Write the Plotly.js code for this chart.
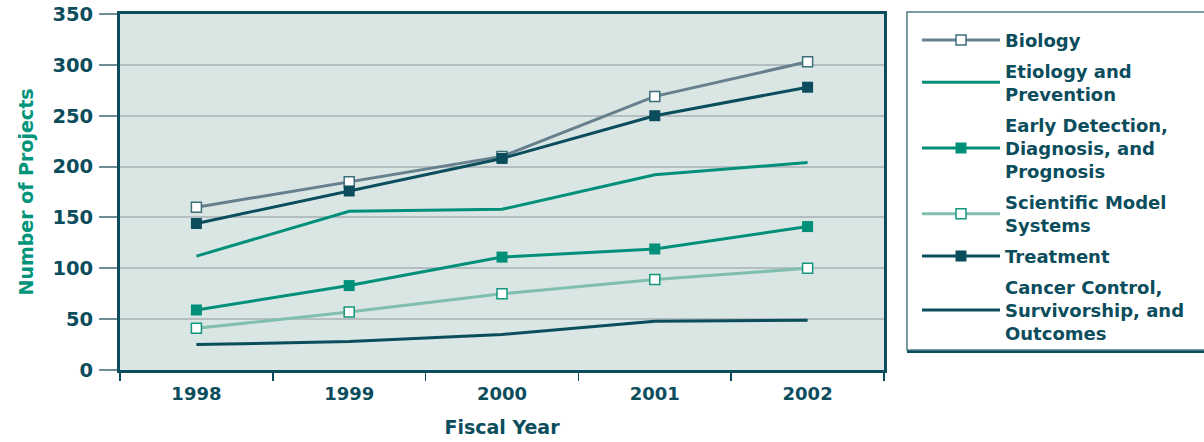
<!DOCTYPE html>
<html>
<head>
<meta charset="utf-8">
<script src="https://cdn.plot.ly/plotly-3.0.1.min.js"></script>
<style>html,body{margin:0;padding:0;background:#fff;}#chart{width:1204px;height:442px;}</style>
</head>
<body>
<div id="chart"></div>
<script>
const years = ['1998', '1999', '2000', '2001', '2002'];
const biology = [160, 185, 210, 269, 303];
const etiology = [112, 156, 158, 192, 204];
const earlyDetection = [59, 83, 111, 119, 141];
const scientificModel = [41, 57, 75, 89, 100];
const treatment = [144, 176, 208, 250, 278];
const cancerControl = [25, 28, 35, 48, 49];

const names = [
  'Biology',
  'Etiology and<br>Prevention',
  'Early Detection,<br>Diagnosis, and<br>Prognosis',
  'Scientific Model<br>Systems',
  'Treatment',
  'Cancer Control,<br>Survivorship, and<br>Outcomes'
];

const DARK = '#0b4d5c';
const TEAL = '#00907a';
const FONT = 'DejaVu Sans, Verdana, sans-serif';

const traces = [
  {y: biology, name: names[0], mode: 'lines+markers',
   line: {color: '#66808e', width: 3},
   marker: {symbol: 'square', size: 10, color: '#ffffff', line: {color: '#3b6e79', width: 1.5}}},
  {y: etiology, name: names[1], mode: 'lines',
   line: {color: TEAL, width: 3}},
  {y: earlyDetection, name: names[2], mode: 'lines+markers',
   line: {color: TEAL, width: 3},
   marker: {symbol: 'square', size: 11, color: TEAL, line: {color: TEAL, width: 0}}},
  {y: scientificModel, name: names[3], mode: 'lines+markers',
   line: {color: '#80bfb0', width: 3},
   marker: {symbol: 'square', size: 10, color: '#ffffff', line: {color: '#13967e', width: 1.5}}},
  {y: treatment, name: names[4], mode: 'lines+markers',
   line: {color: DARK, width: 3},
   marker: {symbol: 'square', size: 11, color: DARK, line: {color: DARK, width: 0}}},
  {y: cancerControl, name: names[5], mode: 'lines',
   line: {color: DARK, width: 3}}
].map((t, i) => Object.assign({x: years, type: 'scatter', legendgroup: 'g' + i, hoverinfo: 'skip'}, t));

// legend frame (paper coordinates) with drop shadow
const shapes = [
  {type: 'rect', xref: 'paper', yref: 'paper', x0: 1.0301, x1: 1.45, y0: 0.0478, y1: 0.998,
   fillcolor: DARK, line: {width: 0}, layer: 'below'},
  {type: 'rect', xref: 'paper', yref: 'paper', x0: 1.0301, x1: 1.43, y0: 0.0562, y1: 1.0056,
   fillcolor: '#ffffff', line: {color: '#4d7b86', width: 1.5}, layer: 'below'}
];

const layout = {
  width: 1204, height: 442,
  margin: {l: 120, r: 320, t: 14, b: 72, autoexpand: false},
  paper_bgcolor: '#ffffff',
  plot_bgcolor: '#d9e6e3',
  font: {family: FONT, size: 18.5, color: DARK, weight: 'bold'},
  showlegend: true,
  shapes: shapes,
  xaxis: {
    type: 'category', range: [-0.5, 4.5], tickson: 'boundaries',
    ticks: 'outside', ticklen: 8, tickwidth: 1.5, tickcolor: DARK,
    ticklabelstandoff: 5,
    showline: true, linewidth: 3, linecolor: DARK, mirror: true,
    showgrid: false, zeroline: false,
    tickfont: {family: FONT, size: 18, color: DARK, weight: 'bold'},
    title: {text: 'Fiscal Year', standoff: 19, font: {family: FONT, size: 19, color: DARK, weight: 'bold'}}
  },
  yaxis: {
    range: [0, 350], dtick: 50, tick0: 0,
    ticks: 'outside', ticklen: 18, tickwidth: 2, tickcolor: '#6f8f98',
    ticklabelstandoff: 2,
    showline: true, linewidth: 3, linecolor: DARK, mirror: true,
    showgrid: true, gridcolor: '#b4bec1', gridwidth: 2, zeroline: false,
    tickfont: {family: FONT, size: 19.5, color: DARK, weight: 'bold'},
    title: {text: 'Number of Projects', standoff: 14, font: {family: FONT, size: 19, color: '#00957a', weight: 'bold'}}
  },
  legend: {
    x: 1.0432, xanchor: 'left', y: 0.978, yanchor: 'top',
    bgcolor: 'rgba(0,0,0,0)', borderwidth: 0, maxheight: 440,
    itemwidth: 78, tracegroupgap: 4.2, traceorder: 'grouped',
    font: {family: FONT, size: 18, color: DARK, weight: 'bold'}
  }
};

Plotly.newPlot('chart', traces, layout, {displayModeBar: false, staticPlot: true});
</script>
</body>
</html>
